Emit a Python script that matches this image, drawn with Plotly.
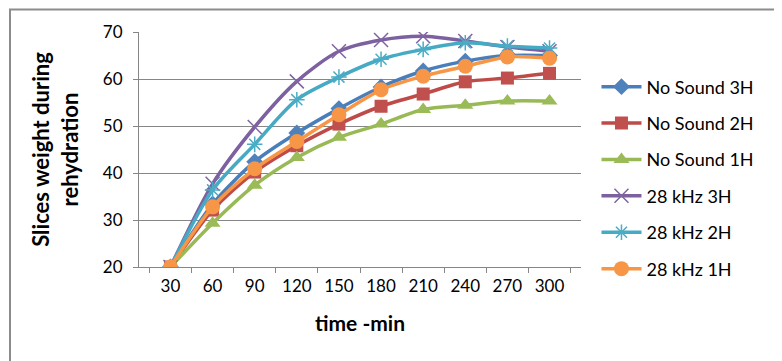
import plotly.graph_objects as go

times = ["30", "60", "90", "120", "150", "180", "210", "240", "270", "300"]
no_sound_3h = [20, 33.4, 42.4, 48.5, 53.7, 58.3, 61.7, 63.8, 65.0, 65.0]
no_sound_2h = [20, 32.1, 40.2, 45.8, 50.4, 54.2, 56.8, 59.4, 60.2, 61.2]
no_sound_1h = [20, 29.3, 37.4, 43.3, 47.6, 50.4, 53.5, 54.4, 55.3, 55.3]
khz28_3h = [20, 37.7, 49.8, 59.5, 65.9, 68.3, 69.1, 68.1, 66.8, 65.9]
khz28_2h = [20, 36.4, 46.1, 55.6, 60.4, 64.2, 66.3, 67.7, 67.0, 66.6]
khz28_1h = [20, 32.8, 40.9, 46.7, 52.4, 57.7, 60.6, 62.7, 64.7, 64.4]

series = [
    ("No Sound 3H", no_sound_3h, "#4A7EBB", "#4F81BD", "diamond", 13),
    ("No Sound 2H", no_sound_2h, "#BE4B48", "#C0504D", "square", 13),
    ("No Sound 1H", no_sound_1h, "#98B954", "#9BBB59", "triangle-up", 14),
    ("28 kHz 3H", khz28_3h, "#7D60A0", "#8064A2", "x-thin", 14),
    ("28 kHz 2H", khz28_2h, "#46AAC5", "#4BACC6", "asterisk", 13),
    ("28 kHz 1H", khz28_1h, "#F79646", "#F79646", "circle", 15),
]

fig = go.Figure()
for i, (name, vals, lc, mc, sym, sz) in enumerate(series):
    thin = sym in ("x-thin", "asterisk")
    fig.add_trace(go.Scatter(
        x=times, y=vals, name=name, mode="lines+markers",
        line=dict(color=lc, width=3.5, shape="spline", smoothing=0.8),
        marker=dict(symbol=sym, size=sz, color=mc,
                    line=dict(color=mc, width=1.5 if thin else 0)),
        legendgroup=f"g{i}",
    ))

L, R, T, B = 131, 209, 24, 102
W, H = 782, 361
pw, ph = W - L - R, H - T - B

fig.update_layout(
    width=W, height=H,
    margin=dict(l=L, r=R, t=T, b=B),
    paper_bgcolor="white", plot_bgcolor="white",
    font=dict(family="Lato, Carlito, Calibri, sans-serif", size=17, color="black"),
    legend=dict(x=1.035, y=0.845, xanchor="left", yanchor="top",
                font=dict(size=18), tracegroupgap=10, itemwidth=40,
                bgcolor="rgba(0,0,0,0)"),
    shapes=[dict(type="rect", xref="paper", yref="paper",
                 x0=(2 - L) / pw, x1=(779 - L) / pw,
                 y0=(H - B - 358) / ph, y1=(H - B - 1.5) / ph,
                 line=dict(color="#8c8c8c", width=2), fillcolor="rgba(0,0,0,0)",
                 layer="below")],
)
fig.update_xaxes(
    type="category", tickson="boundaries", ticks="outside", ticklen=5,
    tickcolor="#868686", showline=True, linecolor="#868686", linewidth=1,
    showgrid=False, tickfont=dict(size=17), ticklabelstandoff=4,
    title=dict(text="<b>time -min</b>", font=dict(size=21), standoff=20),
)
fig.update_yaxes(
    range=[20, 70], dtick=10, ticks="outside", ticklen=5, tickcolor="#868686",
    showline=True, linecolor="#868686", linewidth=1,
    showgrid=True, gridcolor="#868686", gridwidth=1, zeroline=False,
    tickfont=dict(size=17), ticklabelstandoff=7,
    title=dict(text="<b>Slices weight during<br>rehydration</b>", font=dict(size=22), standoff=18),
)

fig.write_html("out.html")
